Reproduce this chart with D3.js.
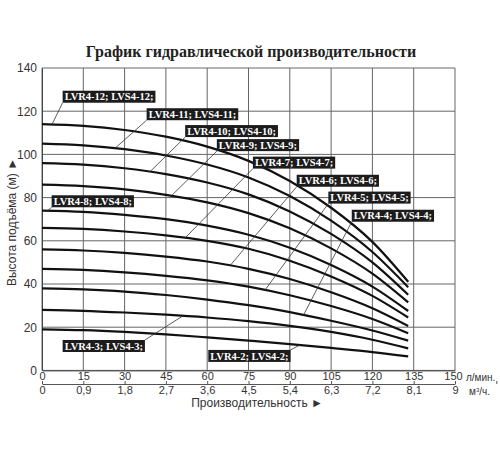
<!DOCTYPE html>
<html><head><meta charset="utf-8">
<script src="https://cdn.jsdelivr.net/npm/d3@7"></script>
<style>body{margin:0;background:#fff}svg{display:block}</style>
</head><body>
<svg id="c" width="500" height="450"></svg>
<script>
// ---- data ----
const flowLpm = [0, 15, 30, 45, 60, 75, 90, 105, 120, 133];
const xTicksLpm = [0, 15, 30, 45, 60, 75, 90, 105, 120, 135, 150];
const xTicksM3h = ["0", "0,9", "1,8", "2,7", "3,6", "4,5", "5,4", "6,3", "7,2", "8,1", "9"];
const yTicks = [0, 20, 40, 60, 80, 100, 120, 140];
const modelNames = ["LVR4-2; LVS4-2;", "LVR4-3; LVS4-3;", "LVR4-4; LVS4-4;", "LVR4-5; LVS4-5;",
  "LVR4-6; LVS4-6;", "LVR4-7; LVS4-7;", "LVR4-8; LVS4-8;", "LVR4-9; LVS4-9;",
  "LVR4-10; LVS4-10;", "LVR4-11; LVS4-11;", "LVR4-12; LVS4-12;"];
const head2  = [19, 18.6, 17.8, 16.7, 15.3, 13.8, 12.2, 10.4, 8.5, 6.5];
const head3  = [28, 27.6, 26.8, 25.8, 24.5, 22.8, 20.6, 17.8, 14.2, 10.2];
const head4  = [38, 37.5, 36.5, 34.9, 32.8, 30.2, 27, 23, 18.5, 13.8];
const head5  = [47, 46.5, 45.4, 43.8, 41.7, 38.8, 34.8, 29.8, 23.8, 17.2];
const head6  = [56, 55.5, 54.4, 52.7, 50.4, 47, 42.3, 36.2, 28.8, 20.6];
const head7  = [66, 65.5, 64.3, 62.5, 60, 56.3, 50.8, 43.5, 34.5, 24.5];
const head8  = [74, 73.4, 72, 70, 67, 62.8, 56.8, 48.8, 38.8, 27.5];
const head9  = [86, 85.3, 83.8, 81.3, 77.8, 72.8, 65.8, 56.5, 44.8, 31.5];
const head10 = [96, 95.3, 93.6, 90.9, 87, 81.5, 73.6, 63.2, 50, 35];
const head11 = [105, 104.2, 102.4, 99.5, 95.3, 89.3, 80.7, 69.3, 54.8, 38.5];
const head12 = [114, 113.2, 111.3, 108.2, 103.6, 97, 87.7, 75.3, 59.5, 41];
const heads = [head2, head3, head4, head5, head6, head7, head8, head9, head10, head11, head12];

// label annotation layout (data units): [model index, attach flow on curve, box left flow, box centre head, leader corner]
const labelLayout = [
  [10, 3.6, 7.5, 126.7, "bl"],
  [9, 26.5, 38, 118.6, "bl"],
  [8, 39.2, 52, 110.8, "bl"],
  [7, 47, 63.5, 104.3, "bl"],
  [5, 52, 76.6, 96.2, "bl"],
  [4, 68.3, 92.5, 87.8, "bl"],
  [3, 81, 104, 80, "bl"],
  [2, 95, 112.5, 71.6, "bl"],
  [6, 2, 3.5, 78.3, "bl"],
  [1, 51.2, 7.5, 11.3, "tr"],
  [0, 93.7, 60.4, 6.7, "tr"]
];

// ---- drawing ----
const svg = d3.select("#c");
const x = d3.scaleLinear().domain([0, 150]).range([42, 455]);
const x2 = d3.scaleLinear().domain([0, 9]).range([42, 455]);
const y = d3.scaleLinear().domain([0, 140]).range([370.4, 68]);

svg.append("text").attr("x", 251).attr("y", 57).attr("text-anchor", "middle")
  .attr("font-family", "Liberation Serif").attr("font-weight", "bold").attr("font-size", 16)
  .attr("fill", "#222").text("График гидравлической производительности");

// grid
const g = svg.append("g");
g.selectAll(".vg").data(xTicksLpm).enter().append("line")
  .attr("x1", d => x(d)).attr("x2", d => x(d)).attr("y1", y(140)).attr("y2", y(0))
  .attr("stroke", "#666").attr("stroke-width", 1);
g.selectAll(".hg").data(yTicks).enter().append("line")
  .attr("x1", x(0)).attr("x2", x(150)).attr("y1", d => y(d)).attr("y2", d => y(d))
  .attr("stroke", "#666").attr("stroke-width", 1);

// axes
const yAxis = d3.axisLeft(y).tickValues(yTicks).tickSize(0).tickPadding(5);
const ya = svg.append("g").attr("transform", `translate(${x(0)},0)`).call(yAxis);
ya.select(".domain").attr("stroke", "#444");
ya.selectAll("text").attr("font-family", "Liberation Sans").attr("font-size", 12).attr("fill", "#333");

const xAxis = d3.axisBottom(x).tickValues(xTicksLpm).tickSize(0).tickPadding(2);
const xa = svg.append("g").attr("transform", `translate(0,${y(0)})`).call(xAxis);
xa.select(".domain").attr("stroke", "#444");
xa.selectAll("text").attr("font-family", "Liberation Sans").attr("font-size", 11).attr("fill", "#333");
xa.selectAll(".tick:last-child text").attr("dx", -2);

const x2Axis = d3.axisBottom(x2).tickValues(d3.range(0, 10, 0.9)).tickSize(-3).tickSizeOuter(0).tickPadding(2)
  .tickFormat((d, i) => xTicksM3h[i]);
const x2a = svg.append("g").attr("transform", `translate(0,384)`).call(x2Axis);
x2a.select(".domain").attr("stroke", "#555");
x2a.selectAll("line").attr("stroke", "#555");
x2a.selectAll("text").attr("font-family", "Liberation Sans").attr("font-size", 11).attr("fill", "#333");

svg.append("text").attr("x", 466).attr("y", 381).attr("font-family", "Liberation Sans").attr("font-size", 10)
  .attr("fill", "#333").text("л/мин.");
svg.append("text").attr("x", 469).attr("y", 395).attr("font-family", "Liberation Sans").attr("font-size", 10)
  .attr("fill", "#333").html('м<tspan dy="-3" font-size="6">3</tspan><tspan dy="3">/ч.</tspan>');
svg.append("text").attr("x", 257).attr("y", 407).attr("text-anchor", "middle")
  .attr("font-family", "Liberation Sans").attr("font-size", 12).attr("fill", "#333").text("Производительность ►");
svg.append("text").attr("transform", "translate(16,222) rotate(-90)").attr("text-anchor", "middle")
  .attr("font-family", "Liberation Sans").attr("font-size", 12).attr("fill", "#333").text("Высота подъёма (м) ►");

// curves
const line = d3.line().x(d => x(d[0])).y(d => y(d[1])).curve(d3.curveMonotoneX);
svg.append("g").selectAll("path").data(heads).enter().append("path")
  .attr("d", h => line(h.map((v, i) => [flowLpm[i], v])))
  .attr("fill", "none").attr("stroke", "#111").attr("stroke-width", 2.2);

// labels
function headAt(h, q) {
  const i = Math.min(d3.bisectRight(flowLpm, q) - 1, flowLpm.length - 2);
  const t = (q - flowLpm[i]) / (flowLpm[i + 1] - flowLpm[i]);
  return h[i] + t * (h[i + 1] - h[i]);
}
const lg = svg.append("g");
labelLayout.forEach(([mi, qa, qb, hb, corner]) => {
  const t = lg.append("text").attr("x", x(qb) + 2).attr("y", y(hb) + 3.7)
    .attr("font-family", "Liberation Serif").attr("font-weight", "bold").attr("font-size", 10.5)
    .attr("fill", "#fff").text(modelNames[mi]);
  const w = t.node().getComputedTextLength() + 4;
  const bx = x(qb), by = y(hb) - 6, bh = 12;
  lg.insert("rect", "text").attr("x", bx).attr("y", by).attr("width", w).attr("height", bh).attr("fill", "#1c1c1c");
  const cx = corner === "bl" ? bx : bx + w;
  const cy = corner === "bl" ? by + bh : by;
  lg.insert("line", "rect").attr("x1", x(qa)).attr("y1", y(headAt(heads[mi], qa)))
    .attr("x2", cx).attr("y2", cy).attr("stroke", "#333").attr("stroke-width", 0.8);
});
</script>
</body></html>
